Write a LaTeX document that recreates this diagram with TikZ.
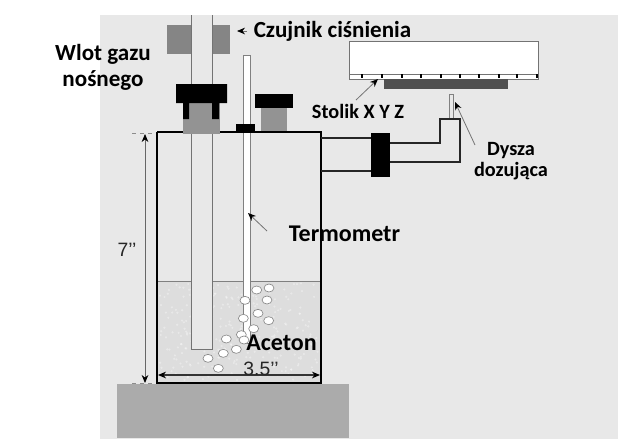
\documentclass[tikz,border=0pt]{standalone}
\usepackage{fontspec}
\setmainfont{Carlito}
\newfontfamily\wymiarfont{Liberation Sans}
\usetikzlibrary{arrows.meta}
\definecolor{tlo}{HTML}{E8E8E8}
\definecolor{ciecz}{HTML}{DDDDDD}
\definecolor{szary}{HTML}{858585}
\definecolor{korek}{HTML}{939393}
\definecolor{podstawa}{HTML}{ABABAB}
\definecolor{plytka}{HTML}{505050}
\tikzset{
  opis/.style={font=\bfseries\fontsize{17.3}{17.3}\selectfont,align=center,text=black,inner sep=0pt},
  opismaly/.style={opis,font=\bfseries\fontsize{15.2}{15.2}\selectfont},
  opisduzy/.style={opis,font=\bfseries\fontsize{18}{18}\selectfont},
  wymiar/.style={font=\wymiarfont\fontsize{14.5}{14.5}\selectfont,text=black!85,inner sep=0pt},
  strzalka/.style={draw=black!55,line width=0.6pt,-{Stealth[black,length=6pt,width=5pt]}},
  rurka/.style={line width=1.5pt,black!85},
  babel/.style={draw=black!45,fill=white,line width=0.5pt}
}
\begin{document}
\begin{tikzpicture}[x=0.75pt,y=-0.75pt,>=Stealth]
  \useasboundingbox (0,0) rectangle (642,444);
  \fill[tlo] (100,15) rectangle (618,439);
  \fill[podstawa] (117,384) rectangle (349,438);
  % ciecz
  \fill[ciecz] (158,281) rectangle (320,382);
  \pgfmathsetseed{7}
  \foreach \i in {1,...,260}
    \fill[white,opacity=0.35] ({160+158*rnd},{283+97*rnd}) circle (1.2);
  \draw[black!50,line width=0.6pt] (157,281) -- (321,281);
  % czujnik i rura gazu
  \fill[szary] (167,25) rectangle (230,54);
  \filldraw[fill=tlo,draw=black!55,line width=0.7pt] (191,15) -- (191,349) -- (212,349) -- (212,15);
  \fill[korek] (183,103) rectangle (220,134);
  \fill[black] (176,84) rectangle (227,103) (183,103) rectangle (189,119) (212,103) rectangle (219,119);
  % termometr
  \filldraw[fill=white,draw=black!50,line width=0.6pt] (243,55) rectangle (250,343);
  \fill[black] (236,124) rectangle (255,133);
  % drugi korek
  \fill[korek] (261,108) rectangle (287,132);
  \fill[black] (255,94) rectangle (293,108);
  % naczynie
  \draw[line width=1.6pt,black] (157,132) -- (157,383) -- (321,383) -- (321,132) -- (255,132) (236,132) -- (220,132) (183,132) -- (157,132);
  % przewod boczny
  \draw[rurka] (321,138) -- (371,138) (321,171) -- (371,171);
  \draw[rurka] (390,143) -- (440,143) -- (440,119) -- (460,119) -- (460,162) -- (390,162);
  \fill[black] (371,133) rectangle (390,177);
  \filldraw[fill=tlo,draw=black!50,line width=0.5pt] (449,118) -- (449,94) -- (453,94) -- (453,118);
  % stolik
  \filldraw[fill=white,draw=black!55,line width=0.7pt] (349,41) rectangle (538,79);
  \draw[black!55,line width=0.7pt] (349,74) -- (538,74);
  \foreach \x in {362,382,402,421,441,460,479,499,517,537}
    \draw[black,line width=1pt] (\x,74) -- (\x,78);
  \fill[plytka] (384,79) rectangle (508,89);
  % babelki
  \foreach \x/\y in {470/90,507/84,501/120,435/121,474/160,430/175,506/182,461/206,424/224,379/237,432/240,409/268,370/280,324/295,355/325}
    \draw[babel] ({100+\x/3},{260+\y/3}) ellipse (5 and 4);
  % wymiary
  \draw[black!45,dashed,line width=0.5pt] (132,133) -- (155,133) (132,383) -- (155,383);
  \draw[black!60,line width=0.6pt,{Stealth[black,length=6pt,width=5pt]}-{Stealth[black,length=6pt,width=5pt]}] (145,134) -- (145,383);
  \draw[black!80,line width=0.8pt,{Stealth[black,length=6pt,width=5pt]}-{Stealth[black,length=6pt,width=5pt]}] (158,375) -- (320,375);
  \node[wymiar] (dlugosc) at (127,250) {7’’};
  \node[wymiar] (szerokosc) at (261,369) {3.5’’};
  % opisy
  \node[opis] (czujnik) at (332.5,31) {Czujnik ciśnienia};
  \node[opis] (wlot) at (103,67.5) {Wlot gazu\\[2pt]nośnego};
  \node[opismaly] (stolik) at (358,111) {Stolik X Y Z};
  \node[opismaly] (dysza) at (511,161) {Dysza\\[1pt]dozująca};
  \node[opisduzy] (termometr) at (344.5,234) {Termometr};
  \node[opisduzy] (aceton) at (281.5,343) {Aceton};
  % strzalki
  \coordinate (k1) at (247,31); \coordinate (k2) at (237,31);
  \coordinate (s1) at (356,100); \coordinate (s2) at (378,79);
  \coordinate (d1) at (475,145); \coordinate (d2) at (455,102);
  \coordinate (t1) at (267,231); \coordinate (t2) at (248,213);
  \draw[strzalka] (k1) -- (k2);
  \draw[strzalka] (s1) -- (s2);
  \draw[strzalka] (d1) -- (d2);
  \draw[strzalka] (t1) -- (t2);
\end{tikzpicture}
\end{document}
